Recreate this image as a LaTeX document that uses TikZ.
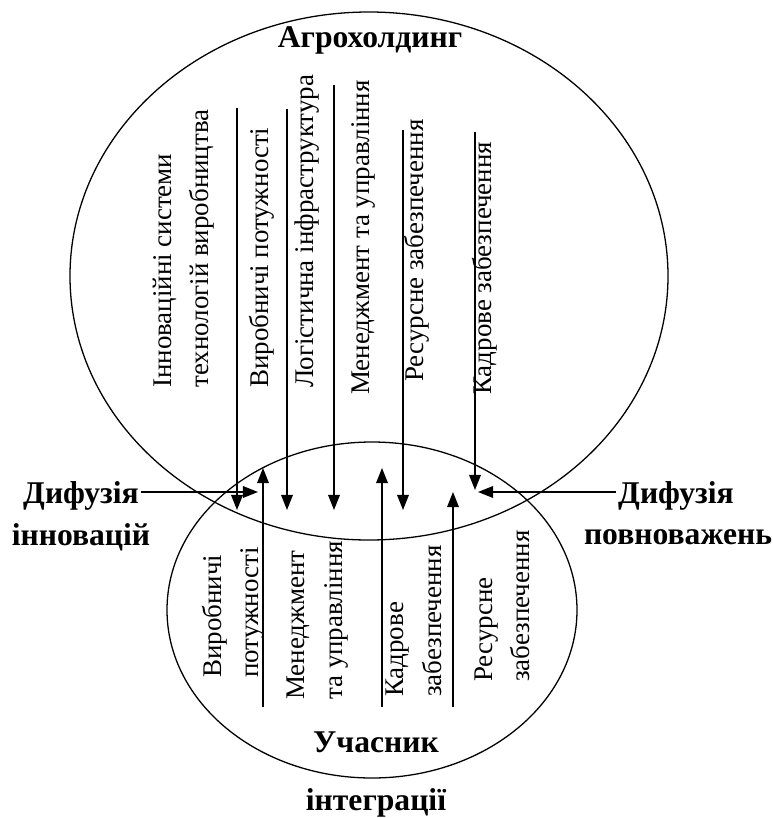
\documentclass[tikz,border=0pt]{standalone}
\usepackage{fontspec}
\setmainfont{Liberation Serif}
\usetikzlibrary{arrows.meta}

\tikzset{
  ring/.style={line width=1.1pt},
  flow/.style={line width=1.3pt,-{Triangle[length=13pt,width=10pt]}},
  factor/.style={rotate=90,anchor=west,inner sep=0pt,align=left,
    font=\fontsize{23}{32}\selectfont},
  title/.style={inner sep=0pt,font=\fontsize{27}{30}\selectfont\bfseries}
}

\begin{document}
\begin{tikzpicture}[x=0.3mm,y=-0.3mm]
  \useasboundingbox (0,0) rectangle (773,818);
  % two sets
  \draw[ring] (369,276) ellipse [x radius=299, y radius=264];
  \draw[ring] (372,610) ellipse [x radius=205, y radius=168];
  \node[title] (holding) at (370,40) {Агрохолдинг};
  \node[title] (member) at (376,742) {Учасник};
  \node[title] (member2) at (376,803) {інтеграції};
  % factors of the holding
  \node[factor] (innov) at (183.5,388) {Інноваційні системи\\технологій виробництва};
  \node[factor] (capac) at (262,388) {Виробничі потужності};
  \node[factor] (logist) at (307,388) {Логістична інфраструктура};
  \node[factor] (manag) at (363,395) {Менеджмент та управління};
  \node[factor] (resour) at (417,382) {Ресурсне забезпечення};
  \node[factor] (staff) at (485,395) {Кадрове забезпечення};
  % factors of the member
  \node[factor] (capac2) at (233.5,678) {Виробничі\\потужності};
  \node[factor] (manag2) at (317.5,700) {Менеджмент\\та управління};
  \node[factor] (staff2) at (414,697) {Кадрове\\забезпечення};
  \node[factor] (resour2) at (502.5,682) {Ресурсне\\забезпечення};
  % flows down
  \foreach \x/\y/\e/\n in {237/108/510/a,287/109/510/c,334/85/510/d,403/130/510/f,475/132/490/h} {
    \coordinate (src\n) at (\x,\y);
    \coordinate (dst\n) at (\x,\e);
    \draw[flow] (src\n) -- (dst\n);
  }
  % flows up
  \foreach \x/\e/\n in {263/468/b,382/468/e,453/492/g} {
    \coordinate (src\n) at (\x,707);
    \coordinate (dst\n) at (\x,\e);
    \draw[flow] (src\n) -- (dst\n);
  }
  % diffusion
  \node[title] (difL) at (81,496) {Дифузія};
  \node[title] (difL2) at (81,537) {інновацій};
  \node[title] (difR) at (676,496) {Дифузія};
  \node[title] (difR2) at (678,537) {повноважень};
  \coordinate (tipL) at (258,492);
  \coordinate (tipR) at (478,492);
  \draw[flow] ([xshift=2pt]difL.east |- tipL) -- (tipL);
  \draw[flow] ([xshift=-2pt]difR.west |- tipR) -- (tipR);
\end{tikzpicture}
\end{document}
